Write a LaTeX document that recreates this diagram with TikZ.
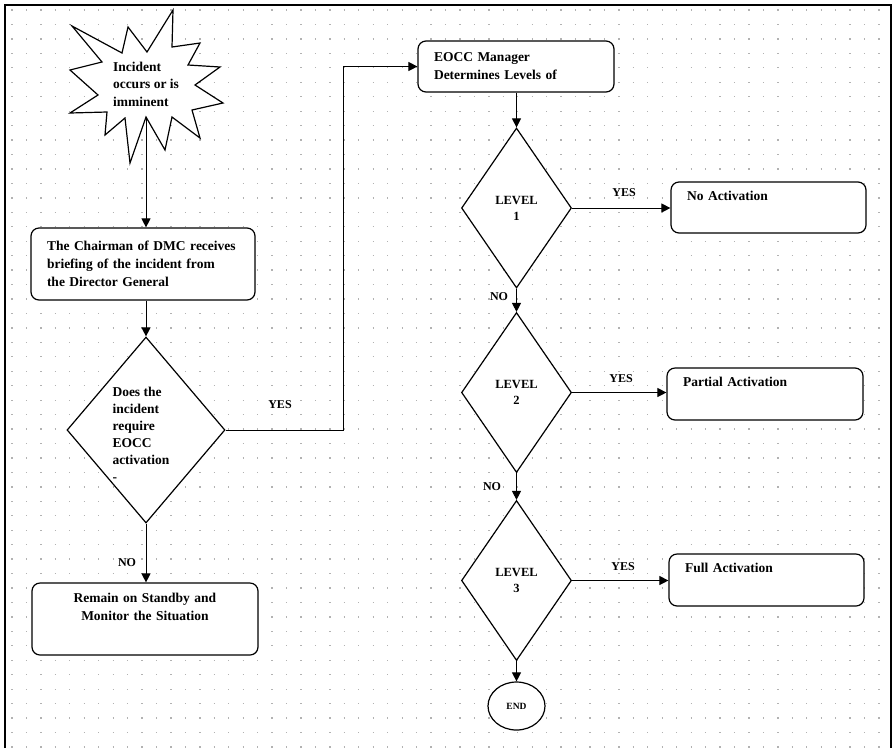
\documentclass[tikz,border=0pt]{standalone}
\usepackage{fontspec}
\setmainfont{Liberation Serif}
\usetikzlibrary{shapes.geometric,arrows.meta}
\begin{document}
\begin{tikzpicture}[x=1pt,y=-1pt]
\tikzset{kasten/.style={rectangle, rounded corners=8pt, line width=1.2pt, draw=black, fill=white, inner xsep=16pt, inner ysep=0pt, align=left, font=\bfseries\fontsize{13.5}{18}\selectfont},
raute/.style={diamond, line width=1.2pt, draw=black, fill=white, inner sep=0pt, minimum width=110pt, minimum height=160pt, align=center, font=\bfseries\fontsize{12.5}{16}\selectfont},
marke/.style={font=\bfseries\fontsize{12}{14}\selectfont, inner sep=0pt},
pfeil/.style={line width=1pt, -{Triangle[length=9pt,width=9pt]}}}
\useasboundingbox (0,0) rectangle (893,748);

% dotted sheet and frame
\foreach \j in {0,...,51}
	\draw[gray!60, line width=1.3pt, dash pattern=on 1.3pt off 13.15pt] (11.35,10+\j*14.45) -- (893,10+\j*14.45);
\draw[line width=2pt] (4.5,748) -- (4.5,5) -- (891,5) -- (891,748);

% start burst
\draw[line width=1.2pt, fill=white] (173,10) -- (172,47) -- (200,43) -- (188,65) -- (220,67) -- (195,85) -- (223,103) -- (192,110) -- (200,138) -- (172,117) -- (165,150) -- (146,117) -- (130,163) -- (125,118) -- (105,135) -- (107,112) -- (70,113) -- (98,95) -- (70,70) -- (102,62) -- (72,26) -- (122,53) -- (128,27) -- (147,52) -- cycle;
\node[font=\bfseries\fontsize{13.5}{17.5}\selectfont, align=left, inner sep=0pt] at (146,84) (inc) {Incident\\occurs or is\\imminent};
\coordinate (incb) at (146,117);

\node[kasten, text width=192pt, minimum height=72pt] at (143,264) (b1) {The Chairman of DMC receives\\briefing of the incident from\\the Director General};
\node[raute, minimum width=158pt, minimum height=186pt] at (146,430) (q) {};
\node[font=\bfseries\fontsize{13.5}{17}\selectfont, align=left, inner sep=0pt] at (141,434) (qt) {Does the\\incident\\require\\EOCC\\activation\\-};
\node[kasten, align=center, text width=194pt, minimum height=72pt] at (145,619) (b2) {Remain on Standby and\\Monitor the Situation\\\strut};

\node[kasten, text width=164pt, minimum height=51pt] at (516,66.5) (b3) {EOCC Manager\\Determines Levels of};
\node[raute] at (516.5,208) (l1) {LEVEL\\1};
\node[raute] at (516.5,392.5) (l2) {LEVEL\\2};
\node[raute] at (516.5,580.5) (l3) {LEVEL\\3};
\node[ellipse, line width=1.2pt, draw=black, fill=white, inner sep=0pt, minimum width=57pt, minimum height=48pt, font=\bfseries\fontsize{9.5}{11}\selectfont] at (516.5,706) (ende) {END};

\node[kasten, text width=163pt, minimum height=51pt] at (768.5,207.5) (b4) {No Activation\\\strut};
\node[kasten, text width=164pt, minimum height=52pt] at (765,394) (b5) {Partial Activation\\\strut};
\node[kasten, text width=163pt, minimum height=52pt] at (766.5,580) (b6) {Full Activation\\\strut};

\node[marke] at (280,405) (yes0) {YES};
\node[marke] at (127,563) (no0) {NO};
\node[marke] at (624,193) (yes1) {YES};
\node[marke] at (499,297) (no1) {NO};
\node[marke] at (621,379) (yes2) {YES};
\node[marke] at (492,487) (no2) {NO};
\node[marke] at (623,567) (yes3) {YES};

			\draw [pfeil] (incb) -- (b1.north -| incb);
			\draw [pfeil] (b1.south -| q.north) -- (q.north);
			\draw [pfeil] (q.south) -- (q.south |- b2.north);
			\draw [pfeil] (q.east) -- ++(118,0) |- (b3.west);

			% levels
			\draw [pfeil] (b3.south -| l1.north) -- (l1.north);
			\draw [pfeil] (l1.south) -- (l2.north);
			\draw [pfeil] (l2.south) -- (l3.north);
			\draw [pfeil] (l3.south) -- (ende.north);
			\draw [pfeil] (l1.east) -- (l1.east -| b4.west);
			\draw [pfeil] (l2.east) -- (l2.east -| b5.west);
			\draw [pfeil] (l3.east) -- (l3.east -| b6.west);
\end{tikzpicture}
\end{document}
